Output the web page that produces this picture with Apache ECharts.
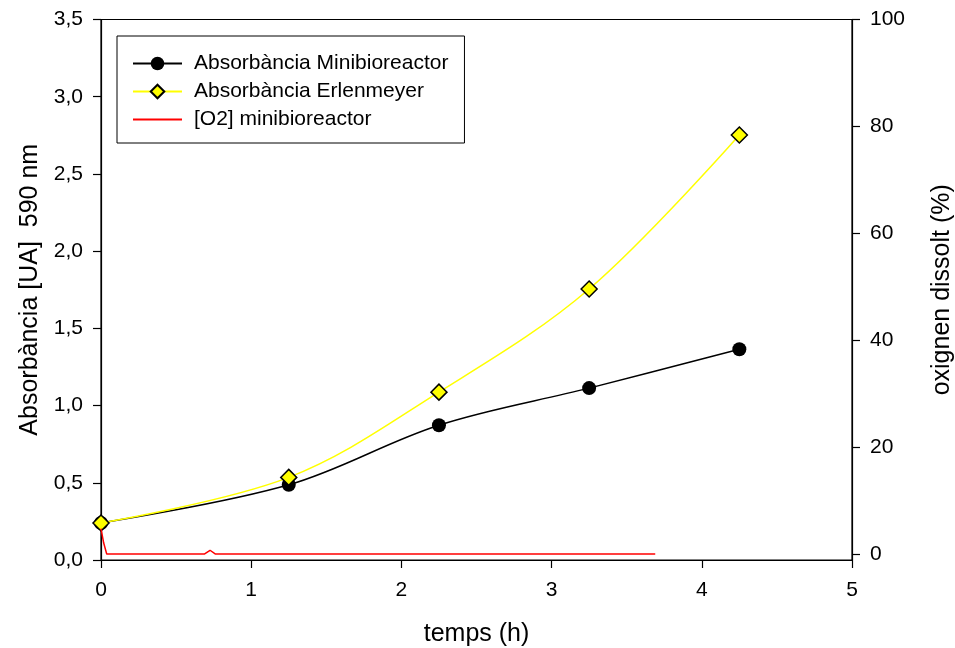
<!DOCTYPE html>
<html>
<head>
<meta charset="utf-8">
<script src="https://cdn.jsdelivr.net/npm/echarts@6/dist/echarts.min.js"></script>
<style>
  html, body { margin: 0; padding: 0; background: #fff; }
  #chart { width: 955px; height: 648px; }
</style>
</head>
<body>
<div id="chart"></div>
<script>
// Sampling times (h) for absorbance readings
var sampleTimes = [0, 1.25, 2.25, 3.25, 4.25];
// Absorbance at 590 nm (UA)
var absMini = [0.24, 0.487, 0.873, 1.113, 1.365];
var absErlen = [0.24, 0.535, 1.087, 1.755, 2.752];
// Dissolved oxygen trace in the minibioreactor (%)
var o2Times = [0, 0.018, 0.038, 0.69, 0.726, 0.76, 3.69];
var o2Values = [4.8, 2.1, 0.06, 0.06, 0.75, 0.06, 0.06];
// Axis tick values
var leftTicks = [0, 0.5, 1, 1.5, 2, 2.5, 3, 3.5];
var rightTicks = [0, 20, 40, 60, 80, 100];
var xTicks = [0, 1, 2, 3, 4, 5];

function pairs(xs, ys) {
  return xs.map(function (x, i) { return [x, ys[i]]; });
}

var FONT = 'Liberation Sans, Arial, sans-serif';
var chart = echarts.init(document.getElementById('chart'), null, { renderer: 'canvas' });

chart.setOption({
  animation: false,
  backgroundColor: '#ffffff',
  textStyle: { fontFamily: FONT, color: '#000' },
  grid: {
    left: 101, right: 103, top: 19.5, bottom: 88,
    outerBoundsMode: 'none',
    containLabel: false,
    show: true, borderColor: '#000', borderWidth: 1.2, backgroundColor: 'transparent'
  },
  legend: {
    orient: 'vertical',
    left: 117, top: 36,
    padding: [17, 16, 13, 15],
    itemGap: 7,
    itemWidth: 49,
    itemHeight: 17,
    borderColor: '#000',
    borderWidth: 1,
    backgroundColor: '#fff',
    textStyle: { fontFamily: FONT, fontSize: 21, color: '#000', padding: [0, 0, 0, 7] },
    data: [
      'Absorbància Minibioreactor',
      'Absorbància Erlenmeyer',
      { name: '[O2] minibioreactor', itemStyle: { opacity: 0 } }
    ]
  },
  xAxis: {
    type: 'value',
    min: 0, max: 5, interval: 1,
    name: 'temps (h)',
    nameLocation: 'middle',
    nameGap: 62,
    nameTextStyle: { fontFamily: FONT, fontSize: 25, color: '#000' },
    axisLine: { onZero: false, lineStyle: { color: '#000', width: 1.2 } },
    axisTick: { show: true, inside: false, length: 8, lineStyle: { color: '#000', width: 1.2 } },
    axisLabel: {
      fontFamily: FONT, fontSize: 21, color: '#000', margin: 20,
      customValues: xTicks,
      formatter: function (v) { return String(v); }
    },
    splitLine: { show: false }
  },
  yAxis: [
    {
      type: 'value',
      position: 'left',
      min: 0, max: 3.5, interval: 0.5,
      name: 'Absorbància [UA]  590 nm',
      nameLocation: 'middle',
      nameGap: 58,
      nameRotate: 90,
      nameTextStyle: { fontFamily: FONT, fontSize: 25, color: '#000' },
      axisLine: { show: true, lineStyle: { color: '#000', width: 1.2 } },
      axisTick: { show: true, inside: false, length: 8, lineStyle: { color: '#000', width: 1.2 } },
      axisLabel: {
        fontFamily: FONT, fontSize: 21, color: '#000', margin: 18,
        customValues: leftTicks,
        formatter: function (v) { return v.toFixed(1).replace('.', ','); }
      },
      splitLine: { show: false }
    },
    {
      type: 'value',
      position: 'right',
      min: -1.07, max: 100,
      name: 'oxignen dissolt (%)',
      nameLocation: 'middle',
      nameGap: 78,
      nameRotate: 90,
      nameTextStyle: { fontFamily: FONT, fontSize: 25, color: '#000' },
      axisLine: { show: true, lineStyle: { color: '#000', width: 1.2 } },
      axisTick: { show: true, inside: false, length: 8, customValues: rightTicks, lineStyle: { color: '#000', width: 1.2 } },
      axisLabel: {
        fontFamily: FONT, fontSize: 21, color: '#000', margin: 18,
        customValues: rightTicks,
        formatter: function (v) { return String(Math.round(v)); }
      },
      splitLine: { show: false }
    }
  ],
  series: [
    {
      name: 'Absorbància Minibioreactor',
      type: 'line',
      yAxisIndex: 0,
      data: pairs(sampleTimes, absMini),
      smooth: 0.35,
      symbol: 'circle',
      symbolSize: 14,
      itemStyle: { color: '#000', borderColor: '#000', borderWidth: 0 },
      lineStyle: { color: '#000', width: 1.5 },
      z: 2
    },
    {
      name: 'Absorbància Erlenmeyer',
      type: 'line',
      yAxisIndex: 0,
      data: pairs(sampleTimes, absErlen),
      smooth: 0.35,
      symbol: 'diamond',
      symbolSize: 16,
      itemStyle: { color: '#ffff00', borderColor: '#000', borderWidth: 1.5 },
      lineStyle: { color: '#ffff00', width: 1.5 },
      z: 3
    },
    {
      name: '[O2] minibioreactor',
      type: 'line',
      yAxisIndex: 1,
      data: pairs(o2Times, o2Values),
      showSymbol: false,
      symbol: 'none',
      itemStyle: { color: '#ff0000' },
      lineStyle: { color: '#ff0000', width: 1.5 },
      z: 4
    }
  ]
});
</script>
</body>
</html>
